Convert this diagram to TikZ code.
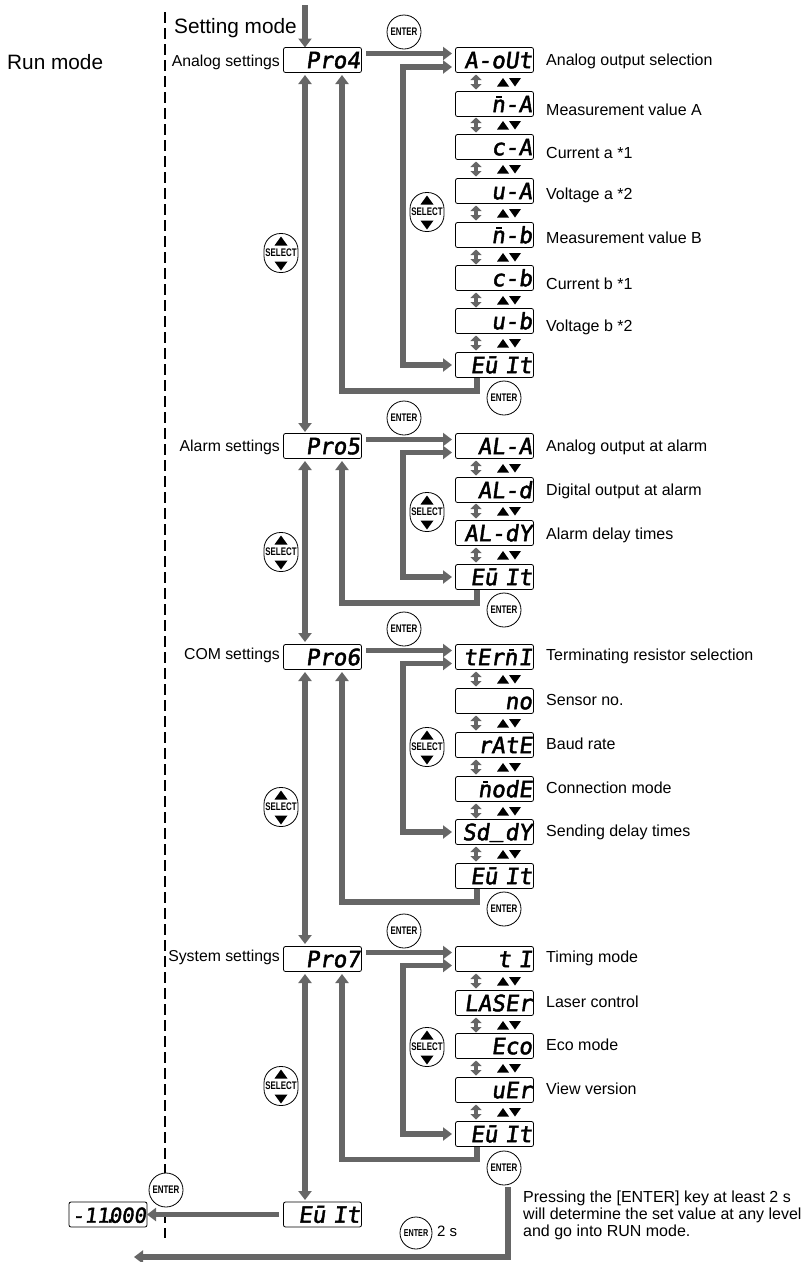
\documentclass[tikz,border=0pt]{standalone}
\usepackage{fontspec}
\setmainfont{Liberation Sans}
\newfontfamily\dispfont[FakeBold=2,FakeSlant=0.14]{DejaVu Sans Mono}
\newfontfamily\keyfont[FakeStretch=0.72]{Liberation Sans}
\usetikzlibrary{arrows.meta}
\definecolor{flow}{HTML}{666666}
\newcommand{\barn}{\rlap{\kern5pt\rule[14pt]{5.5pt}{2pt}}n}
\tikzset{
  x=1pt,y=-1pt,
  disp/.style={draw=black,line width=0.8pt,rounded corners=2pt,fill=white,minimum width=78pt,minimum height=25pt,inner sep=0pt,outer sep=0pt,text width=75pt,align=right,text height=16.4pt,text depth=0pt,font=\dispfont\fontsize{22.5}{22.5}\selectfont},
  lab/.style={anchor=west,inner sep=0pt,font=\fontsize{16}{18}\selectfont},
  leftlab/.style={anchor=east,inner sep=0pt,font=\fontsize{15.8}{18}\selectfont},
  head/.style={inner sep=0pt,anchor=west,font=\fontsize{20.8}{23}\selectfont},
  enterbtn/.style={circle,draw=black,line width=0.8pt,fill=white,minimum size=34pt,inner sep=0pt,font=\keyfont\bfseries\fontsize{11}{11}\selectfont},
  selbtn/.style={draw=black,line width=0.8pt,fill=white,rounded corners=16.5pt,minimum width=34pt,minimum height=39pt,inner sep=0pt,font=\keyfont\bfseries\fontsize{11}{11}\selectfont},
  flowline/.style={draw=flow,line width=5.5pt,-{Triangle[length=9pt,width=13pt]}},
  flowboth/.style={draw=flow,line width=5.5pt,{Triangle[length=9pt,width=13pt]}-{Triangle[length=9pt,width=13pt]}},
  flowplain/.style={draw=flow,line width=5.5pt},
  stepboth/.style={draw=flow,line width=4.5pt,{Triangle[length=5.5pt,width=11pt]}-{Triangle[length=5.5pt,width=11pt]}},
}
\newcommand{\updown}[2]{%
  \fill (#1-12,#2+4.5) -- (#1-6,#2-4) -- (#1,#2+4.5) -- cycle;
  \fill (#1,#2-4) -- (#1+12,#2-4) -- (#1+6,#2+4.5) -- cycle;}
\newcommand{\keyselect}[3]{%
  \node[selbtn] (#1) at (#2,#3) {SELECT};
  \fill[black] (#2-6.5,#3-7.5) -- (#2,#3-16.5) -- (#2+6.5,#3-7.5) -- cycle;
  \fill[black] (#2-6.5,#3+8.5) -- (#2,#3+17.5) -- (#2+6.5,#3+8.5) -- cycle;}
\newcommand{\stepmark}[3]{%
  \coordinate (#1a) at (476,#2-7.5);
  \coordinate (#1b) at (476,#2+7.5);
  \draw[stepboth] (#1a) -- (#1b);
  \updown{#3}{#2}}
\newcommand{\bracket}[2]{%
  \draw[flowplain] (445,#1) -- (403,#1) -- (403,#2) -- (445,#2);
  \draw[flowline] (440,#1) -- (452,#1);
  \draw[flowline] (440,#2) -- (452,#2);}
\begin{document}
\begin{tikzpicture}
\useasboundingbox (0,0) rectangle (808,1262);
\coordinate (sepTop) at (165,12);
\coordinate (sepBot) at (165,1238);
\draw[black,line width=1.3pt,dash pattern=on 11pt off 5pt] (sepTop) -- (sepBot);
\node[head] (runmode) at (7,62) {Run mode};
\node[head] (setmode) at (174,28) {Setting mode};
\node[disp] (pro4) at (322.5,60) {Pro4};
\node[disp] (pro5) at (322.5,446) {Pro5};
\node[disp] (pro6) at (322.5,657) {Pro6};
\node[disp] (pro7) at (322.5,959) {Pro7};
\node[disp] (exit0) at (322.5,1214.5) {Eū It};
\node[disp,text width=76pt,font=\dispfont\fontsize{20.5}{20.5}\selectfont] (value) at (108,1214.5) {-11\kern-.25em.\kern-.352em000};
\node[leftlab] (l4) at (280,62) {Analog settings};
\node[leftlab] (l5) at (280,447) {Alarm settings};
\node[leftlab] (l6) at (280,655) {COM settings};
\node[leftlab] (l7) at (280,957) {System settings};
\node[disp] (aout) at (494.5,60) {A-oUt};
\node[disp] (ma) at (494.5,104) {\barn-A};
\node[disp] (ca) at (494.5,147) {c-A};
\node[disp] (ua) at (494.5,191) {u-A};
\node[disp] (mb) at (494.5,235) {\barn-b};
\node[disp] (cb) at (494.5,278) {c-b};
\node[disp] (ub) at (494.5,321) {u-b};
\node[disp] (exit1) at (494.5,365) {Eū It};
\node[lab] at (546,61) {Analog output selection};
\node[lab] at (546,110) {Measurement value A};
\node[lab] at (546,153) {Current a *1};
\node[lab] at (546,195) {Voltage a *2};
\node[lab] at (546,238) {Measurement value B};
\node[lab] at (546,284) {Current b *1};
\node[lab] at (546,327) {Voltage b *2};
\node[disp] (ala) at (494.5,446) {AL-A};
\node[disp] (ald) at (494.5,490) {AL-d};
\node[disp] (aldy) at (494.5,533) {AL-dY};
\node[disp] (exit2) at (494.5,577) {Eū It};
\node[lab] at (546,447) {Analog output at alarm};
\node[lab] at (546,491) {Digital output at alarm};
\node[lab] at (546,535) {Alarm delay times};
\node[disp] (term) at (494.5,657) {tEr\barn\kern1pt I};
\node[disp] (no) at (494.5,701) {no};
\node[disp] (rate) at (494.5,745) {rAtE};
\node[disp] (mode) at (494.5,789) {\barn odE};
\node[disp] (sddy) at (494.5,832) {Sd\kern1pt\raisebox{3.5pt}{\_}\kern1pt dY};
\node[disp] (exit3) at (494.5,876) {Eū It};
\node[lab] at (546,656) {Terminating resistor selection};
\node[lab] at (546,700) {Sensor no.};
\node[lab] at (546,744) {Baud rate};
\node[lab] at (546,788) {Connection mode};
\node[lab] at (546,832) {Sending delay times};
\node[disp] (t1) at (494.5,959) {t I};
\node[disp] (laser) at (494.5,1003) {LASEr};
\node[disp] (eco) at (494.5,1046) {Eco};
\node[disp] (uer) at (494.5,1090) {uEr};
\node[disp] (exit4) at (494.5,1134) {Eū It};
\node[lab] at (546,958) {Timing mode};
\node[lab] at (546,1002) {Laser control};
\node[lab] at (546,1045) {Eco mode};
\node[lab] at (546,1089) {View version};
\stepmark{s1}{82}{509}
\stepmark{s2}{125}{509}
\stepmark{s3}{169}{509}
\stepmark{s4}{213}{509}
\stepmark{s5}{257}{509}
\stepmark{s6}{300}{509}
\stepmark{s7}{343}{509}
\stepmark{s8}{468}{509}
\stepmark{s9}{511}{509}
\stepmark{s10}{555}{509}
\stepmark{s11}{679}{509}
\stepmark{s12}{723}{509}
\stepmark{s13}{767}{509}
\stepmark{s14}{811}{509}
\stepmark{s15}{854}{509}
\stepmark{s16}{981}{509}
\stepmark{s17}{1025}{509}
\stepmark{s18}{1068}{509}
\stepmark{s19}{1112}{509}
\coordinate (start) at (305,5);
\draw[flowline] (start) -- (pro4.north -| start);
\draw[flowboth] (305,75) -- (305,432);
\draw[flowboth] (305,461) -- (305,642);
\draw[flowboth] (305,672) -- (305,944);
\draw[flowboth] (305,974) -- (305,1200);
\draw[flowline] (279,1214.5) -- (value.east);
\draw[flowline] (366,53.5) -- (452,53.5);
\bracket{67}{365}
\draw[flowline] (477,377.5) |- (342,391) -- (342,75);
\draw[flowline] (366,439.5) -- (452,439.5);
\bracket{452.5}{577}
\draw[flowline] (477,590) |- (342,603) -- (342,461);
\draw[flowline] (366,650.5) -- (452,650.5);
\bracket{663.5}{832}
\draw[flowline] (477,889) |- (342,902) -- (342,672);
\draw[flowline] (366,952.5) -- (452,952.5);
\bracket{965.5}{1134}
\draw[flowline] (477,1147) |- (342,1159.5) -- (342,974);
\draw[flowline] (508,1187) |- (134,1257);
\node[enterbtn] (e1) at (404,32) {ENTER};
\node[enterbtn] (e2) at (404,418) {ENTER};
\node[enterbtn] (e3) at (404,629) {ENTER};
\node[enterbtn] (e4) at (404,931) {ENTER};
\node[enterbtn] (x1) at (504,398) {ENTER};
\node[enterbtn] (x2) at (504,610) {ENTER};
\node[enterbtn] (x3) at (504,909) {ENTER};
\node[enterbtn] (x4) at (504,1168) {ENTER};
\node[enterbtn] (e0) at (166,1190) {ENTER};
\node[enterbtn,minimum size=32pt,font=\keyfont\bfseries\fontsize{10}{10}\selectfont] (e2s) at (416,1233) {ENTER};
\node[lab,font=\fontsize{15}{17}\selectfont] (twos) at (437,1231) {2 s};
\keyselect{r1}{427}{212}
\keyselect{r2}{427}{512}
\keyselect{r3}{427}{747}
\keyselect{r4}{427}{1047}
\keyselect{l1}{281}{253}
\keyselect{l2}{281}{552}
\keyselect{l3}{281}{807}
\keyselect{l4k}{281}{1086}
\node[inner sep=0pt,anchor=north west,align=left,font=\fontsize{16}{17}\selectfont] (note) at (523,1191) {Pressing the [ENTER] key at least 2 s\\will determine the set value at any level\\and go into RUN mode.};
\end{tikzpicture}
\end{document}
